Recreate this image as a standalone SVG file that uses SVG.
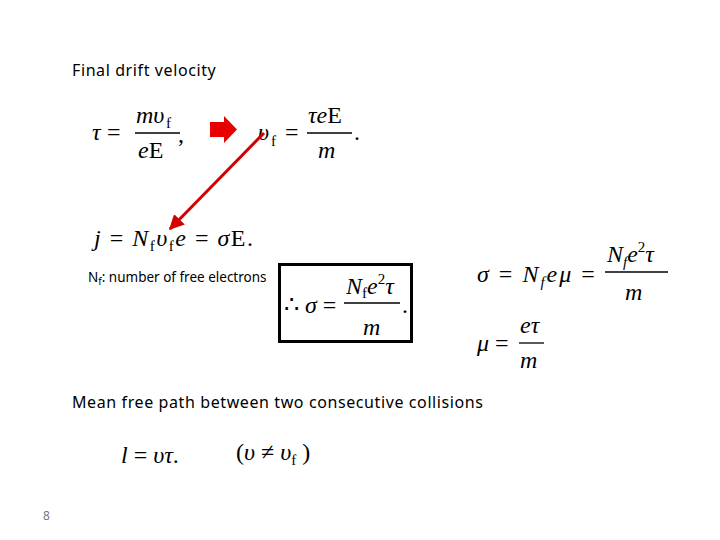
<svg xmlns="http://www.w3.org/2000/svg" width="720" height="540" viewBox="0 0 720 540">
<style>
.s{font-family:"Noto Sans","DejaVu Sans",sans-serif;fill:#000}
.m{font-family:"Liberation Serif",serif;font-size:24px;fill:#000}
.i{font-style:italic}
.sub{font-size:15px}
.fl{stroke:#000;stroke-width:1.3}
</style>
<defs><marker id="ah" viewBox="0 0 10 10" refX="9" refY="5" markerWidth="5" markerHeight="5" orient="auto"><path d="M0,0L10,5L0,10z" fill="#d40000"/></marker></defs>
<rect width="720" height="540" fill="#fff"/>
<text class="s" x="72" y="76" font-size="16" letter-spacing="0.6">Final drift velocity</text>
<g id="eq1">
<text class="m i" x="92" y="140">τ</text><text class="m" x="107" y="140">=</text>
<line class="fl" x1="135" y1="133" x2="180" y2="133"/>
<text class="m i" x="136" y="123">mυ</text><text class="m sub" x="166" y="128">f</text>
<text class="m" x="138" y="158"><tspan class="i">e</tspan>E</text>
<text class="m" x="178" y="142">,</text>
</g>
<g id="blockarrow"><path d="M210,122H224V116L237,129.5L224,143V137H210Z" fill="#e60000"/></g>
<g id="eq2">
<text class="m i" x="258" y="140">υ</text><text class="m sub" x="271" y="146">f</text><text class="m" x="285" y="140">=</text>
<line class="fl" x1="307" y1="133" x2="352" y2="133"/>
<text class="m" x="308" y="123"><tspan class="i">τe</tspan>E</text>
<text class="m i" x="318" y="158">m</text><text class="m" x="354" y="140">.</text>
</g>
<g id="connectors"><line x1="264" y1="133" x2="170" y2="229" stroke="#d40000" stroke-width="3" marker-end="url(#ah)"/></g>
<g id="eq3">
<text class="m" x="94" y="246" font-size="26" letter-spacing="1.5"><tspan class="i">j</tspan> = <tspan class="i">N</tspan><tspan class="sub" dy="5">f</tspan><tspan class="i" dy="-5">υ</tspan><tspan class="sub" dy="5">f</tspan><tspan class="i" dy="-5">e</tspan> = <tspan class="i">σ</tspan>E.</text>
</g>
<text class="s" x="88" y="282" font-size="13.5">N<tspan font-size="10" dy="3">f</tspan><tspan dy="-3">: number of free electrons</tspan></text>
<g id="box">
<rect x="279.5" y="264.5" width="132" height="77" fill="none" stroke="#000" stroke-width="3"/>
<text class="m" x="284" y="313">∴ <tspan class="i">σ</tspan> =</text>
<line class="fl" x1="344" y1="303" x2="400" y2="303"/>
<text class="m i" x="346" y="294">N<tspan class="sub" font-style="normal" dy="4">f</tspan><tspan dy="-4">e</tspan><tspan class="sub" font-style="normal" dy="-10">2</tspan><tspan dy="10">τ</tspan></text>
<text class="m i" x="363" y="335">m</text><text class="m" x="402" y="313">.</text>
</g>
<g id="eq4">
<text class="m i" x="477" y="282" letter-spacing="2">σ <tspan font-style="normal">=</tspan> N<tspan class="sub" dy="5">f</tspan><tspan dy="-5">eμ</tspan> <tspan font-style="normal">=</tspan></text>
<line class="fl" x1="605" y1="272" x2="668" y2="272"/>
<text class="m i" x="607" y="262">N<tspan class="sub" dy="5">f</tspan><tspan dy="-5">e</tspan><tspan class="sub" font-style="normal" dy="-10">2</tspan><tspan dy="10">τ</tspan></text>
<text class="m i" x="625" y="300">m</text>
</g>
<g id="eq5">
<text class="m i" x="477" y="351">μ <tspan font-style="normal">=</tspan></text>
<line class="fl" x1="519" y1="343" x2="544" y2="343"/>
<text class="m i" x="520" y="333">eτ</text>
<text class="m i" x="520" y="368">m</text>
</g>
<text class="s" x="72" y="408" font-size="16" letter-spacing="0.6">Mean free path between two consecutive collisions</text>
<g id="eq6">
<text class="m" x="121" y="463"><tspan class="i">l</tspan> = <tspan class="i">υτ</tspan>.</text>
<text class="m" x="236" y="460">(<tspan class="i">υ</tspan> ≠ <tspan class="i">υ</tspan><tspan class="sub" dy="5">f</tspan><tspan dy="-5"> )</tspan></text>
</g>
<text class="s" x="43" y="520" font-size="12" style="fill:#777">8</text>
</svg>
